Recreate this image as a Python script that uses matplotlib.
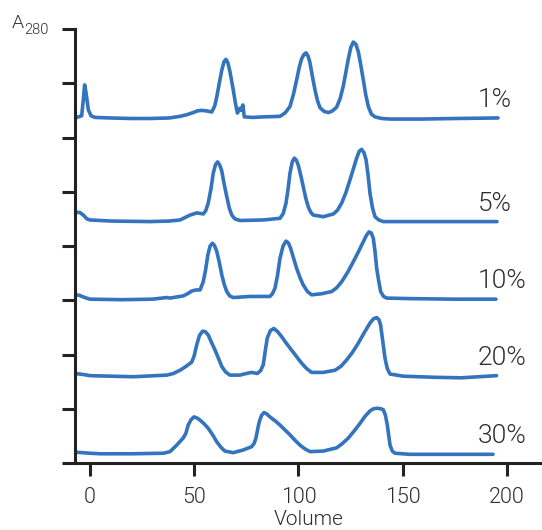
import matplotlib
matplotlib.use('Agg')
import matplotlib.pyplot as plt

# stacked A280 traces (axis units, one tick = 1)
labels = ['1%', '5%', '10%', '20%', '30%']

vol_1 = [-6.4, -4.0, -3.2, -2.6, -2.0, -0.8, 0.5, 2.4, 10, 20, 28.8, 38, 43.2, 46.4, 49.5, 51.5,
         53.6, 56, 58.4, 59.8, 60.8, 62, 63.2, 64.3, 65.2, 66.1, 67.1, 68.7, 69.8, 70.7, 71.9,
         72.7, 73.3, 74.0, 78, 83.1, 91.1, 93.5, 95.9, 97.6, 99.1, 100.4, 101.5, 102.6, 103.6,
         104.6, 105.5, 106.7, 107.9, 109.1, 110.3, 112.3, 114.3, 116.3, 118.3, 120, 121.5, 122.7,
         123.9, 125.1, 126.3, 127.5, 128.7, 129.9, 131.1, 132.3, 133.5, 135, 136.7, 140, 143.9,
         159, 175, 195.7]
abs_1 = [6.37, 6.40, 6.70, 6.97, 6.85, 6.51, 6.40, 6.37, 6.36, 6.35, 6.35, 6.36, 6.39, 6.42, 6.46,
         6.49, 6.50, 6.49, 6.47, 6.58, 6.75, 7.00, 7.24, 7.40, 7.44, 7.38, 7.22, 6.88, 6.62, 6.45,
         6.54, 6.50, 6.60, 6.38, 6.37, 6.38, 6.39, 6.45, 6.57, 6.80, 7.06, 7.30, 7.45, 7.53, 7.56,
         7.50, 7.38, 7.12, 6.88, 6.68, 6.55, 6.48, 6.46, 6.49, 6.56, 6.72, 6.95, 7.20, 7.45, 7.66,
         7.76, 7.72, 7.58, 7.33, 7.06, 6.78, 6.57, 6.43, 6.38, 6.35, 6.34, 6.34, 6.35, 6.36]

vol_5 = [-6.4, -5, -3.2, -1.5, 0, 10, 28.8, 38, 43.2, 48.0, 51.2, 53, 54.3, 55.5, 56.7, 58, 59.1,
         60.2, 61.2, 62.1, 63.1, 64.3, 65.6, 66.8, 68.0, 69.5, 71.9, 83.1, 91.1, 92.7, 94.0, 95.0,
         95.9, 97.0, 98.0, 99.0, 99.9, 101.1, 102.3, 103.5, 104.7, 105.9, 107.1, 111.9, 116.7,
         118.7, 120.7, 122.7, 124.7, 126.3, 127.9, 129.2, 130.3, 131.4, 132.4, 133.4, 134.3,
         135.5, 136.7, 138.5, 140.7, 148.7, 170, 195.2]
abs_5 = [4.62, 4.62, 4.57, 4.50, 4.48, 4.46, 4.45, 4.46, 4.48, 4.57, 4.61, 4.60, 4.59, 4.65, 4.79,
         5.05, 5.34, 5.50, 5.55, 5.50, 5.40, 5.15, 4.91, 4.70, 4.57, 4.50, 4.47, 4.48, 4.51, 4.60,
         4.79, 5.05, 5.34, 5.55, 5.62, 5.58, 5.49, 5.30, 5.09, 4.88, 4.72, 4.62, 4.57, 4.54, 4.59,
         4.66, 4.79, 4.98, 5.22, 5.42, 5.62, 5.75, 5.78, 5.72, 5.59, 5.30, 4.97, 4.70, 4.54, 4.48,
         4.45, 4.45, 4.45, 4.45]

vol_10 = [-7.2, -5, -2.5, 0, 15, 30, 36.8, 38.4, 44.7, 46.8, 48.8, 50.8, 52.8, 54.3, 55.4, 56.5,
          57.6, 58.7, 59.7, 60.8, 62.0, 63.2, 64.4, 65.6, 67.0, 68.7, 76.7, 86.3, 87.5, 88.7, 89.9,
          91.1, 92.6, 94.0, 95.1, 96.2, 97.6, 99.1, 100.7, 102.3, 104.3, 106.3, 111.1, 115.9,
          118.3, 120.7, 123.5, 126.3, 128.7, 131.1, 132.5, 133.8, 134.9, 135.9, 136.7, 137.5,
          138.5, 139.4, 140.8, 142.3, 153.5, 175, 194.7]
abs_10 = [3.10, 3.09, 3.05, 3.02, 3.01, 3.02, 3.05, 3.04, 3.08, 3.12, 3.17, 3.19, 3.19, 3.34, 3.55,
          3.83, 4.00, 4.05, 4.01, 3.90, 3.70, 3.47, 3.29, 3.16, 3.08, 3.05, 3.07, 3.07, 3.12, 3.22,
          3.45, 3.77, 4.00, 4.09, 4.06, 3.96, 3.78, 3.59, 3.42, 3.28, 3.16, 3.10, 3.12, 3.16, 3.23,
          3.34, 3.51, 3.71, 3.89, 4.08, 4.19, 4.26, 4.24, 4.14, 3.90, 3.59, 3.35, 3.16, 3.07, 3.04,
          3.03, 3.02, 3.02]

vol_20 = [-7.2, -3, 0, 20.8, 36.8, 40, 43.2, 46, 48.8, 50, 51.2, 52.5, 54.0, 55.3, 56.7, 58.3, 60.0,
          61.6, 63.2, 65.0, 67.1, 71.9, 75, 77.5, 80.2, 81.8, 83.1, 84.0, 85.0, 86.5, 88.2, 90.0,
          91.9, 94.3, 96.7, 99.1, 101.5, 103.9, 106.3, 111.9, 117.5, 120.3, 123.1, 125.9, 128.7,
          131.5, 134.3, 136.0, 137.5, 138.6, 139.4, 140.4, 141.5, 142.6, 143.9, 150.3, 165, 178,
          195]
abs_20 = [1.65, 1.63, 1.61, 1.59, 1.62, 1.65, 1.71, 1.78, 1.86, 1.98, 2.18, 2.35, 2.43, 2.42, 2.36,
          2.22, 2.08, 1.93, 1.78, 1.68, 1.62, 1.62, 1.65, 1.67, 1.65, 1.70, 1.81, 2.05, 2.30, 2.44,
          2.48, 2.42, 2.33, 2.20, 2.08, 1.96, 1.84, 1.74, 1.67, 1.67, 1.71, 1.78, 1.90, 2.04, 2.21,
          2.40, 2.58, 2.66, 2.68, 2.64, 2.54, 2.25, 1.93, 1.74, 1.64, 1.60, 1.58, 1.57, 1.61]

vol_30 = [-7.2, 0, 4.8, 20, 35.2, 38.4, 41.6, 44.7, 46.0, 47.1, 48.5, 49.9, 51.3, 52.8, 54.8, 56.7,
          58.8, 60.8, 62.8, 64.7, 68.7, 73.5, 77.5, 78.7, 79.6, 80.4, 81.2, 82.3, 83.5, 84.9, 86.3,
          88.7, 91.1, 93.5, 95.9, 98.3, 100.7, 103.1, 105.5, 111.9, 118.3, 121.1, 123.9, 126.7,
          129.5, 131.9, 134.3, 136.0, 137.8, 139.5, 140.7, 141.7, 142.6, 143.3, 143.9, 145.0,
          146.3, 153.5, 175, 193.3]
abs_30 = [0.20, 0.18, 0.17, 0.17, 0.18, 0.21, 0.33, 0.46, 0.55, 0.70, 0.80, 0.85, 0.83, 0.79, 0.72,
          0.64, 0.52, 0.39, 0.29, 0.22, 0.19, 0.24, 0.30, 0.36, 0.46, 0.62, 0.76, 0.88, 0.93, 0.90,
          0.85, 0.78, 0.70, 0.61, 0.52, 0.42, 0.33, 0.26, 0.21, 0.22, 0.28, 0.36, 0.46, 0.59, 0.73,
          0.86, 0.96, 1.00, 1.01, 1.00, 0.98, 0.88, 0.70, 0.50, 0.33, 0.22, 0.18, 0.16, 0.16, 0.16]

x_ticks = [0, 50, 100, 150, 200]
y_ticks = list(range(9))

traces = [(vol_1, abs_1), (vol_5, abs_5), (vol_10, abs_10), (vol_20, abs_20), (vol_30, abs_30)]

line_color = '#3473bd'
text_color = '#2e2e2e'
plt.rcParams['font.family'] = ['Roboto', 'DejaVu Sans']
plt.rcParams['font.weight'] = 300
plt.rcParams['axes.labelweight'] = 300

fig = plt.figure(figsize=(5.42, 5.30), dpi=100)
ax = fig.add_axes([75/542, 67/530, 467/542, 434/530])

for (v, a), lab in zip(traces, labels):
    ax.plot(v, a, color=line_color, lw=2.6, solid_joinstyle='round', solid_capstyle='round')
    ax.text(186, a[-1] + 0.33, lab, fontsize=19, color=text_color, ha='left', va='center')

ax.set_xlim(-7.2, 216.8)
ax.set_ylim(0, 8)
ax.set_xticks(x_ticks)
ax.set_yticks(y_ticks)
ax.set_yticklabels([])
ax.spines['top'].set_visible(False)
ax.spines['right'].set_visible(False)
for s in ['left', 'bottom']:
    ax.spines[s].set_linewidth(2.2)
    ax.spines[s].set_color('#222222')
ax.tick_params(axis='x', length=9, width=2.2, color='#222222', pad=8,
               labelsize=15.5, labelcolor=text_color)
ax.tick_params(axis='y', length=9.5, width=2.2, color='#222222')
ax.set_xlabel('Volume', fontsize=15, color=text_color, labelpad=2)

fig.text(12/542, 1 - 28/530, 'A', fontsize=14, color=text_color, ha='left', va='baseline')
fig.text(24.5/542, 1 - 34.5/530, '280', fontsize=10.5, color=text_color, ha='left', va='baseline')

fig.savefig('out.png', dpi=100)
